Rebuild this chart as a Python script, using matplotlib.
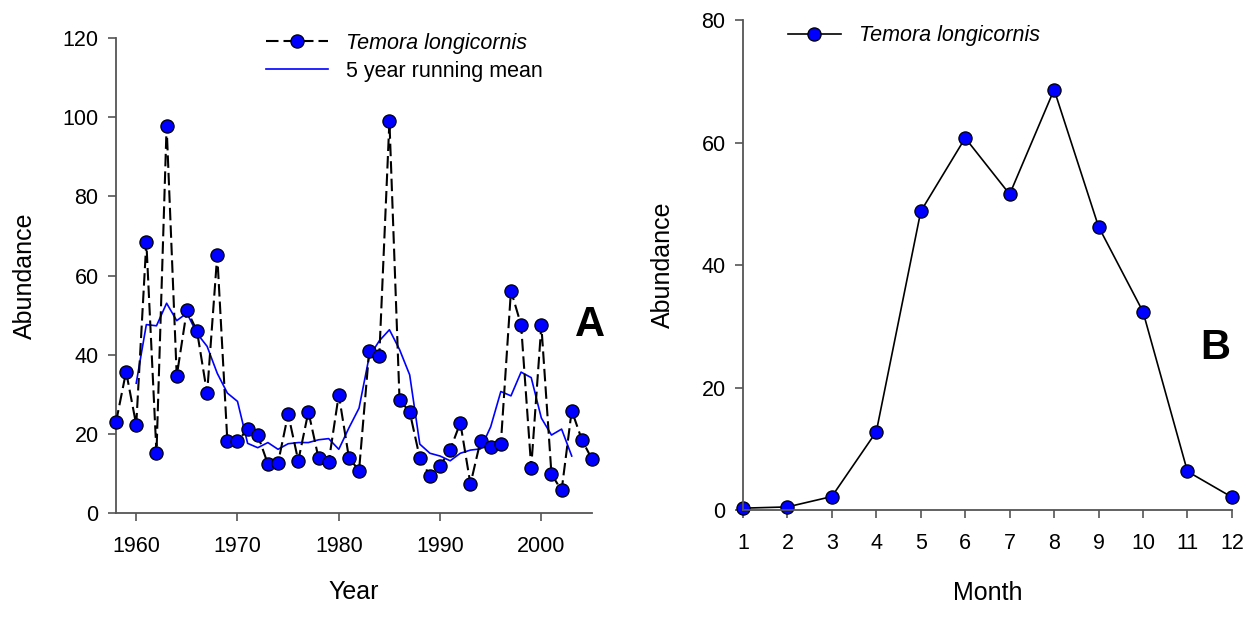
import matplotlib
matplotlib.use("Agg")
from matplotlib import pyplot as plt

plt.rcParams['font.family'] = ['Liberation Sans', 'DejaVu Sans']

# annual abundance, 1958-2005
years = list(range(1958, 2006))
abundance = [22.9, 35.7, 22.3, 68.5, 15.1, 97.8, 34.6, 51.3, 46.0, 30.2,
             65.2, 18.1, 18.1, 21.2, 19.7, 12.4, 12.6, 25.0, 13.2, 25.6,
             13.9, 12.8, 29.9, 14.0, 10.7, 40.9, 39.7, 99.0, 28.5, 25.6,
             13.9, 9.4, 11.9, 16.0, 22.8, 7.3, 18.3, 16.7, 17.4, 56.2,
             47.5, 11.5, 47.4, 9.8, 5.7, 25.9, 18.5, 13.6]

# 5 year running mean, 1960-2003
mean_years = list(range(1960, 2004))
running_mean = [32.8, 47.6, 47.3, 53.0, 48.6, 50.5, 45.4, 42.1, 35.3, 30.3,
                28.2, 17.6, 16.5, 17.8, 16.1, 17.5, 17.8, 17.8, 18.5, 18.8,
                16.1, 21.5, 26.5, 39.5, 43.5, 46.3, 41.3, 34.9, 17.4, 15.1,
                14.4, 13.2, 15.1, 15.9, 16.2, 21.8, 30.7, 29.6, 35.6, 34.2,
                24.0, 19.7, 21.2, 14.4]

# monthly climatology
months = list(range(1, 13))
monthly = [0.3, 0.5, 2.2, 12.8, 48.8, 60.8, 51.6, 68.7, 46.3, 32.4, 6.3, 2.1]

spine_col = '#555555'
tick_fs = 15.5
label_fs = 18


def style_axes(ax):
    for side in ['top', 'right']:
        ax.spines[side].set_visible(False)
    for side in ['left', 'bottom']:
        ax.spines[side].set_color(spine_col)
        ax.spines[side].set_linewidth(1.3)
    ax.tick_params(axis='both', direction='out', length=5.5, width=1.2,
                   color=spine_col, labelsize=tick_fs, labelcolor='black')
    ax.tick_params(axis='x', pad=11)
    ax.tick_params(axis='y', pad=7)


fig = plt.figure(figsize=(12.55, 6.19), dpi=100)

##### Panel A: time series
axA = fig.add_axes([0.0924, 0.1712, 0.3793, 0.7674])
axA.plot(years, abundance, color='black', lw=1.5, dashes=(6, 2.4),
         marker='o', ms=9.5, mfc='#0000ff', mec='black', mew=0.9,
         clip_on=False, zorder=3, label='Temora longicornis')
axA.plot(mean_years, running_mean, color='#0000ff', lw=1.2, zorder=2,
         label='5 year running mean')
axA.set_xlim(1958, 2005)
axA.set_ylim(0, 120)
axA.set_xticks([1960, 1970, 1980, 1990, 2000])
axA.set_yticks([0, 20, 40, 60, 80, 100, 120])
style_axes(axA)
axA.set_xlabel('Year', fontsize=label_fs)
axA.set_ylabel('Abundance', fontsize=label_fs)
axA.xaxis.set_label_coords(0.5, -0.142)
axA.yaxis.set_label_coords(-0.166, 0.5)
legA = axA.legend(loc='upper left', bbox_to_anchor=(0.315, 1.011), frameon=False,
                  fontsize=tick_fs, handlelength=2.9, handletextpad=0.8,
                  labelspacing=0.33, borderpad=0, borderaxespad=0)
legA.get_texts()[0].set_style('italic')
axA.text(0.996, 0.396, 'A', transform=axA.transAxes, fontsize=30,
         fontweight='bold', ha='center', va='center')

##### Panel B: seasonal cycle
axB = fig.add_axes([0.5920, 0.1761, 0.3896, 0.7908])
axB.plot(months, monthly, color='black', lw=1.2, marker='o', ms=9.5,
         mfc='#0000ff', mec='black', mew=0.9, clip_on=False,
         label='Temora longicornis')
axB.set_xlim(1, 12)
axB.set_ylim(0, 80)
axB.set_xticks(months)
axB.set_yticks([0, 20, 40, 60, 80])
style_axes(axB)
axB.set_xlabel('Month', fontsize=label_fs)
axB.set_ylabel('Abundance', fontsize=label_fs)
axB.xaxis.set_label_coords(0.5, -0.145)
axB.yaxis.set_label_coords(-0.14, 0.5)
legB = axB.legend(loc='upper left', bbox_to_anchor=(0.092, 0.99), frameon=False,
                  fontsize=tick_fs, handlelength=2.45, handletextpad=0.85,
                  borderpad=0, borderaxespad=0)
legB.get_texts()[0].set_style('italic')
axB.text(0.965, 0.331, 'B', transform=axB.transAxes, fontsize=30,
         fontweight='bold', ha='center', va='center')

plt.savefig('out.png', dpi=100)
